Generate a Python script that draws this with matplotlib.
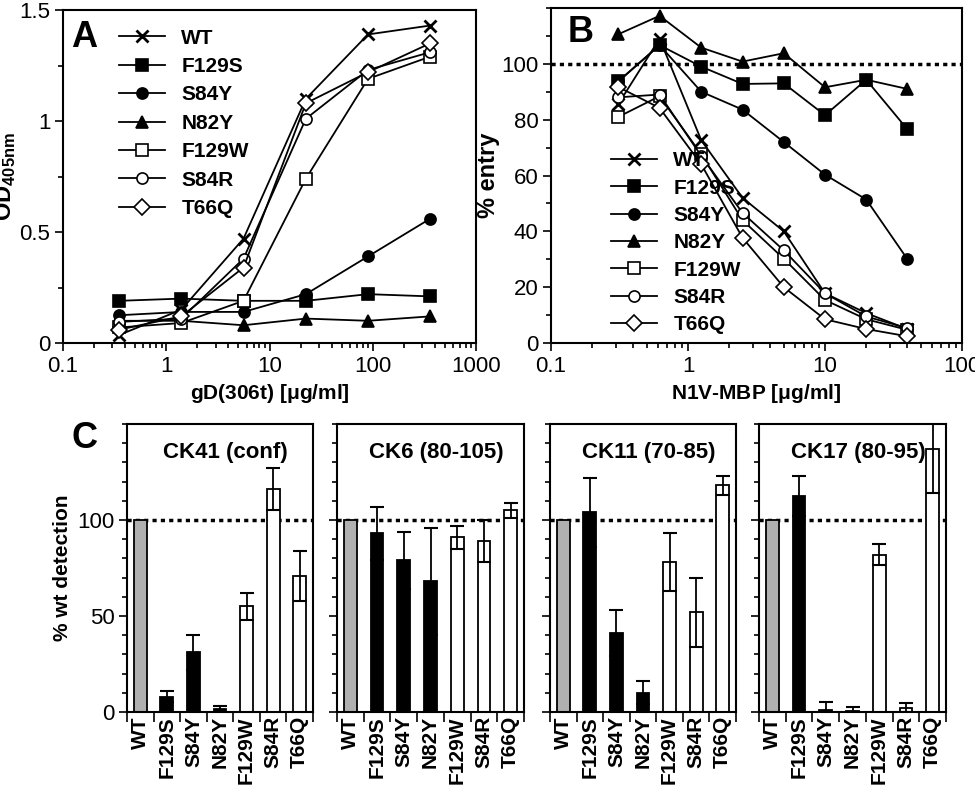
import matplotlib.pyplot as plt
from matplotlib.ticker import MultipleLocator, FixedLocator

plt.rcParams['font.family'] = ['Liberation Sans', 'DejaVu Sans']
plt.rcParams['mathtext.fontset'] = 'custom'
plt.rcParams['mathtext.bf'] = 'Liberation Sans:bold'

names = ['WT', 'F129S', 'S84Y', 'N82Y', 'F129W', 'S84R', 'T66Q']
markers = ['x', 's', 'o', '^', 's', 'o', 'D']
fills = ['k', 'k', 'k', 'k', 'w', 'w', 'w']

# Panel A
conc_a = [0.35, 1.4, 5.6, 22.5, 90, 360]
od = {
    'WT': [0.036, 0.15, 0.47, 1.10, 1.39, 1.43],
    'F129S': [0.19, 0.20, 0.19, 0.19, 0.22, 0.21],
    'S84Y': [0.125, 0.14, 0.14, 0.22, 0.39, 0.56],
    'N82Y': [0.10, 0.10, 0.08, 0.11, 0.10, 0.12],
    'F129W': [0.07, 0.09, 0.19, 0.74, 1.19, 1.29],
    'S84R': [0.095, 0.11, 0.38, 1.01, 1.23, 1.31],
    'T66Q': [0.06, 0.12, 0.34, 1.08, 1.22, 1.35],
}

# Panel B
conc_b = [0.31, 0.62, 1.25, 2.5, 5, 10, 20, 40]
entry = {
    'WT': [85.6, 109, 72.6, 52, 40, 17.8, 10.7, 5],
    'F129S': [93.7, 106.7, 99, 92.8, 93, 81.6, 94.3, 76.5],
    'S84Y': [93.7, 106.7, 90, 83.6, 72, 60.3, 51.4, 30],
    'N82Y': [110.6, 117.2, 105.8, 100.8, 103.8, 91.6, 94.3, 91],
    'F129W': [81, 88.4, 67.6, 44, 30.2, 15.4, 8.5, 4.7],
    'S84R': [88, 89, 67, 46.6, 33.2, 17.8, 9.5, 5.3],
    'T66Q': [91.7, 84.2, 64, 37.7, 20, 8.5, 5, 2.4],
}

# Panel C
antibodies = ['CK41 (conf)', 'CK6 (80-105)', 'CK11 (70-85)', 'CK17 (80-95)']
detect = [
    [100, 8, 31, 1.5, 55, 116, 71],
    [100, 93, 79, 68, 91, 89, 105],
    [100, 104, 41, 10, 78, 52, 118],
    [100, 112.5, 1, 0.5, 82, 2.3, 137],
]
detect_err = [
    [0, 3, 9, 1.5, 7, 11, 13],
    [0, 14, 15, 28, 6, 11, 4],
    [0, 18, 12, 6, 15, 18, 5],
    [0, 10.5, 4, 2, 5.5, 2.5, 23],
]
bar_colors = ['#b0b0b0', 'k', 'k', 'k', 'w', 'w', 'w']

fig = plt.figure(figsize=(9.75, 8), dpi=100)
W, H = 975, 800


def add_ax(l, t, r, b):
    return fig.add_axes([l / W, 1 - b / H, (r - l) / W, (b - t) / H])


def style(ax):
    for s in ax.spines.values():
        s.set_linewidth(1.5)
    ax.tick_params(which='both', direction='out', width=1.2, labelsize=16, pad=3)
    ax.tick_params(which='major', length=6)
    ax.tick_params(which='minor', length=3.5)


axA = add_ax(63, 10, 476, 343)
for n, m, f in zip(names, markers, fills):
    axA.plot(conc_a, od[n], '-', color='k', lw=1.3, marker=m, ms=8, mfc=f,
             mec='k', mew=2 if m == 'x' else 1.2, label=n)
axA.set_xscale('log')
axA.set_xlim(0.1, 1000)
axA.set_ylim(0, 1.5)
axA.set_xticks([0.1, 1, 10, 100, 1000])
axA.set_xticklabels(['0.1', '1', '10', '100', '1000'])
axA.set_yticks([0, 0.5, 1, 1.5])
axA.set_yticklabels(['0', '0.5', '1', '1.5'])
axA.yaxis.set_minor_locator(MultipleLocator(0.25))
axA.set_xlabel(r'gD(306t) [$\mathbf{\mu}$g/ml]', fontsize=15, fontweight='bold')
axA.set_ylabel(r'OD$_{\mathbf{405nm}}$', fontsize=17, fontweight='bold', labelpad=1)
style(axA)
axA.legend(loc='upper left', bbox_to_anchor=(0.09, 1.0), frameon=False,
           prop={'size': 15, 'weight': 'bold'}, handlelength=2.2, labelspacing=0.45)
axA.text(0.02, 0.97, 'A', transform=axA.transAxes, fontsize=26, fontweight='bold', va='top')

axB = add_ax(551, 8, 962, 343)
for n, m, f in zip(names, markers, fills):
    axB.plot(conc_b, entry[n], '-', color='k', lw=1.3, marker=m, ms=8, mfc=f,
             mec='k', mew=2 if m == 'x' else 1.2, label=n)
axB.axhline(100, color='k', ls=(0, (1.2, 1.2)), lw=2.5)
axB.set_xscale('log')
axB.set_xlim(0.1, 100)
axB.set_ylim(0, 120)
axB.set_xticks([0.1, 1, 10, 100])
axB.set_xticklabels(['0.1', '1', '10', '100'])
axB.set_yticks([0, 20, 40, 60, 80, 100])
axB.yaxis.set_minor_locator(MultipleLocator(10))
axB.set_xlabel(r'N1V-MBP [$\mathbf{\mu}$g/ml]', fontsize=15, fontweight='bold')
axB.set_ylabel('% entry', fontsize=17, fontweight='bold', labelpad=1)
style(axB)
axB.legend(loc='lower left', bbox_to_anchor=(0.1, -0.03), frameon=False,
           prop={'size': 15, 'weight': 'bold'}, handlelength=2.2, labelspacing=0.4)
axB.text(0.04, 0.98, 'B', transform=axB.transAxes, fontsize=26, fontweight='bold', va='top')

c_lr = [(127, 313), (337, 524), (550, 736), (759, 946)]
for i, (l, r) in enumerate(c_lr):
    ax = add_ax(l, 424, r, 712)
    x = list(range(len(names)))
    ax.bar(x, detect[i], width=0.48, color=bar_colors, edgecolor='k', lw=1.3, zorder=2)
    ax.errorbar(x[1:], detect[i][1:], yerr=detect_err[i][1:], fmt='none', ecolor='k',
                elinewidth=1.3, capsize=5, capthick=1.5, zorder=3)
    ax.axhline(100, color='k', ls=(0, (1.2, 1.2)), lw=2.5, zorder=1)
    ax.set_xlim(-0.5, 6.5)
    ax.set_ylim(0, 150)
    ax.set_xticks(x)
    ax.set_xticklabels(names, rotation=90, fontweight='bold')
    ax.xaxis.set_minor_locator(FixedLocator([k - 0.5 for k in range(8)]))
    ax.set_yticks([0, 50, 100])
    ax.yaxis.set_minor_locator(MultipleLocator(10))
    style(ax)
    ax.tick_params(axis='x', which='major', length=0, labelsize=15)
    ax.tick_params(axis='x', which='minor', length=7)
    if i > 0:
        ax.set_yticklabels([])
    else:
        ax.set_ylabel('% wt detection', fontsize=15, fontweight='bold')
        ax.text(-0.3, 1.01, 'C', transform=ax.transAxes, fontsize=26,
                fontweight='bold', va='top')
    ax.text(0.53, 0.9, antibodies[i], transform=ax.transAxes, fontsize=16,
            fontweight='bold', ha='center', va='center')

fig.savefig('out.png', dpi=100)
